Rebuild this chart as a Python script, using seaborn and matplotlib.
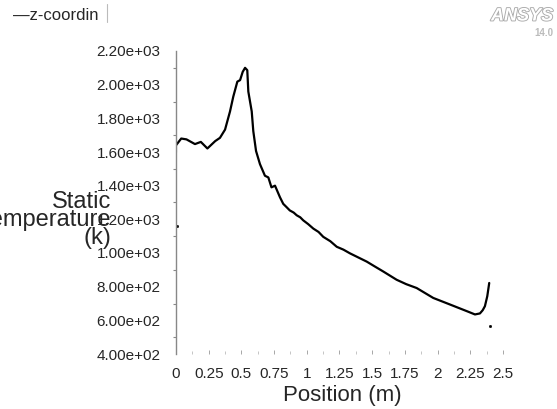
import numpy as np
import pandas as pd
import seaborn as sns
import matplotlib
matplotlib.use("Agg")
import matplotlib.pyplot as plt
import matplotlib.patheffects as pe
from matplotlib.lines import Line2D
from matplotlib.ticker import MultipleLocator, FixedLocator

# curve (position in m, static temperature in K)
pos = [0.0, 0.0, 0.04, 0.08, 0.145, 0.19, 0.24, 0.30, 0.336, 0.375, 0.413, 0.438,
       0.469, 0.49, 0.51, 0.528, 0.545, 0.553, 0.579, 0.591, 0.612, 0.642, 0.68,
       0.706, 0.73, 0.757, 0.795, 0.82, 0.846, 0.87, 0.90, 0.923, 0.95, 0.973,
       1.01, 1.05, 1.09, 1.126, 1.18, 1.229, 1.28, 1.33, 1.39, 1.458, 1.52, 1.585,
       1.687, 1.76, 1.84, 1.967, 2.095, 2.222, 2.286, 2.324, 2.345, 2.362, 2.38, 2.395]
temp = [1600, 1680, 1680, 1675, 1647, 1660, 1621, 1665, 1684, 1733, 1841, 1929,
        2018, 2027, 2076, 2100, 2086, 1959, 1841, 1724, 1606, 1528, 1459,
        1449, 1390, 1400, 1331, 1292, 1272, 1253, 1240, 1224, 1212, 1194,
        1172, 1145, 1125, 1096, 1070, 1037, 1020, 998, 975, 949, 920, 890,
        841, 815, 792, 733, 694, 655, 635, 641, 660, 684, 743, 822]

# stray points
stray_pos = [0.01, 2.40]
stray_temp = [1162, 567]

df = pd.DataFrame({"pos": pos, "temp": temp})
df_s = pd.DataFrame({"pos": stray_pos, "temp": stray_temp})

sns.set_style("white")
plt.rcParams["font.family"] = ["Liberation Sans", "DejaVu Sans"]

fig = plt.figure(figsize=(5.57, 4.09), dpi=100)
ax = fig.add_axes([176 / 557, 1 - 354 / 409, 333.5 / 557, 303 / 409])

sns.lineplot(data=df, x="pos", y="temp", sort=False, color="black", linewidth=1.6, ax=ax)
sns.scatterplot(data=df_s, x="pos", y="temp", color="black", s=4, edgecolor=None, ax=ax)

ax.set_xlim(0, 2.55)
ax.set_ylim(400, 2200)

for s in ["top", "right", "bottom"]:
    ax.spines[s].set_visible(False)
ax.spines["left"].set_color("#888888")
ax.spines["left"].set_linewidth(1.0)

yt = np.arange(400, 2201, 200)
ax.yaxis.set_major_locator(FixedLocator(yt))
ax.set_yticklabels([f"{v:.2e}" for v in yt])
ax.yaxis.set_minor_locator(FixedLocator(np.arange(500, 2200, 200)))
ax.tick_params(axis="y", which="major", length=0, pad=11, labelsize=11)
ax.tick_params(axis="y", which="minor", left=True, length=2, width=0.8, color="#888888")

xt = [0, 0.25, 0.5, 0.75, 1, 1.25, 1.5, 1.75, 2, 2.25, 2.5]
ax.xaxis.set_major_locator(FixedLocator(xt))
ax.set_xticklabels(["0", "0.25", "0.5", "0.75", "1", "1.25", "1.5", "1.75", "2", "2.25", "2.5"])
ax.xaxis.set_minor_locator(MultipleLocator(0.125))
ax.tick_params(axis="x", which="major", bottom=True, direction="in", length=3, width=0.6,
               color="#999999", pad=9, labelsize=11)
ax.tick_params(axis="x", which="minor", bottom=True, direction="in", length=2, width=0.6,
               color="#bbbbbb")

ax.set_xlabel("Position (m)", fontsize=16, labelpad=3)
ax.set_ylabel("")

# y label: right-aligned block, clipped at the left edge like the original
fig.text(111 / 557, 1 - 220 / 409, "Static\nTemperature\n(k)", ha="right", va="center",
         multialignment="right", linespacing=0.75, fontsize=17)

# legend
fig.text(13 / 557, 1 - 15 / 409, "\u2014z-coordin", ha="left", va="center", fontsize=12)
fig.add_artist(Line2D([107 / 557, 107 / 557], [1 - 4 / 409, 1 - 22 / 409],
                      color="#bbbbbb", linewidth=0.8, transform=fig.transFigure))

# logo
fig.text(553 / 557, 1 - 16 / 409, "ANSYS", ha="right", va="center", fontsize=13,
         fontweight="bold", fontstyle="italic", color="white",
         path_effects=[pe.withStroke(linewidth=1.3, foreground="#aaaaaa")])
fig.text(553 / 557, 1 - 33 / 409, "14.0", ha="right", va="center", fontsize=7,
         fontweight="bold", color="#bbbbbb")

fig.savefig("out.png", dpi=100)
